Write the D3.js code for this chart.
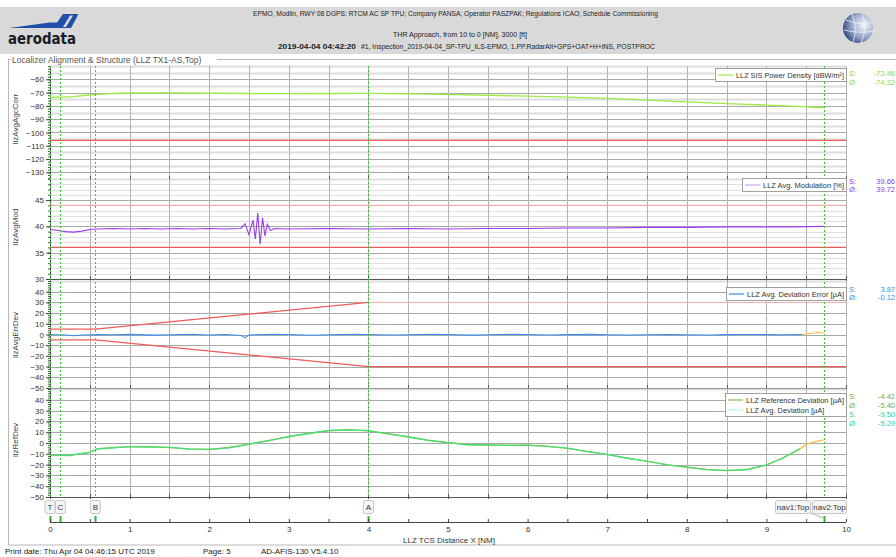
<!DOCTYPE html>
<html>
<head>
<meta charset="utf-8">
<title>Localizer Alignment & Structure</title>
<script src="https://d3js.org/d3.v7.min.js"></script>
<style>
  body { margin: 0; background: #fff; }
  svg { display: block; font-family: "Liberation Sans", Arial, sans-serif; }
</style>
</head>
<body>
<svg id="chart" width="896" height="557"></svg>
<script>
// ---- data ----
var distTicks = [0, 1, 2, 3, 4, 5, 6, 7, 8, 9, 10];
var powerTicks = [-60, -70, -80, -90, -100, -110, -120, -130];
var modTicks = [30, 35, 40, 45];
var errTicks = [40, 30, 20, 10, 0, -10, -20, -30, -40, -50];
var refTicks = [40, 30, 20, 10, 0, -10, -20, -30, -40, -50];

// LLZ SIS Power Density [dBW/m²]
var powerDist = [0, 0.15, 0.3, 0.45, 0.6, 0.8, 1.0, 1.5, 2.0, 2.5, 3.0, 3.5, 4.0, 4.5, 5.0, 5.5, 6.0, 6.5, 7.0, 7.5, 8.0, 8.5, 9.0, 9.4, 9.72];
var powerDensity = [-73.5, -73.4, -73.0, -72.0, -71.3, -70.7, -70.3, -70.2, -70.5, -70.7, -70.8, -70.7, -70.6, -70.9, -71.4, -72.0, -72.7, -73.4, -74.3, -75.6, -77.0, -78.3, -79.4, -80.3, -81.4];
var powerLimit = -106;

// LLZ Avg. Modulation [%]
var modDist = [0, 0.1, 0.2, 0.3, 0.4, 0.5, 0.6, 0.8, 1.0, 1.2, 1.4, 1.6, 1.8, 2.0, 2.2, 2.4, 2.45, 2.5, 2.55, 2.58, 2.61, 2.64, 2.67, 2.7, 2.73, 2.77, 2.82, 3.0, 3.5, 4.0, 4.5, 5.0, 5.5, 6.0, 6.5, 7.0, 7.5, 8.0, 8.5, 9.0, 9.3, 9.72];
var modValue = [39.4, 39.2, 39.0, 38.9, 39.1, 39.4, 39.5, 39.6, 39.5, 39.6, 39.5, 39.6, 39.5, 39.6, 39.5, 39.6, 40.5, 38.4, 41.2, 37.6, 42.6, 36.6, 41.6, 38.2, 40.4, 39.2, 39.6, 39.5, 39.6, 39.5, 39.6, 39.5, 39.6, 39.6, 39.7, 39.7, 39.8, 39.8, 39.9, 39.9, 39.9, 40.0];
var modUpper = 44, modLower = 36;

// LLZ Avg. Deviation Error [µA]
var errDist = [0, 0.2, 0.3, 0.4, 0.6, 0.8, 1.0, 1.3, 1.5, 1.8, 2.0, 2.2, 2.4, 2.45, 2.5, 2.8, 3.0, 3.3, 3.5, 3.8, 4.0, 4.3, 4.5, 4.8, 5.0, 5.3, 5.5, 5.8, 6.0, 6.3, 6.5, 6.8, 7.0, 7.3, 7.5, 7.8, 8.0, 8.3, 8.5, 8.8, 9.0, 9.2, 9.45];
var errValue = [0, -0.5, -1.2, -0.4, 0, -0.3, 0.1, -0.6, -0.2, 0.2, -0.4, 0, -1.0, -3.0, -0.5, 0.2, 0, -0.7, -0.2, 0.1, 0, -0.5, -0.2, 0.2, 0, -0.6, -0.3, 0.1, 0, -0.4, -0.1, 0.1, -0.2, -0.5, -0.2, 0, -0.2, -0.4, -0.1, 0, -0.1, -0.2, 0];
var errTailDist = [9.45, 9.55, 9.65, 9.72];
var errTail = [0, 1.0, 1.8, 1.4];
var errUpperDist = [0, 0.57, 4.0];
var errUpper = [5, 5, 30];
var errUpperOuterDist = [4.0, 10];
var errUpperOuter = [30, 30];
var errLowerDist = [0, 0.57, 4.0, 10];
var errLower = [-5, -5, -30, -30];

// LLZ Reference Deviation / LLZ Avg. Deviation [µA]
var devDist = [0, 0.25, 0.5, 0.6, 0.8, 1.0, 1.25, 1.5, 1.75, 2.0, 2.25, 2.5, 2.75, 3.0, 3.25, 3.5, 3.75, 4.0, 4.25, 4.5, 4.75, 5.0, 5.25, 5.5, 5.75, 6.0, 6.25, 6.5, 6.75, 7.0, 7.25, 7.5, 7.75, 8.0, 8.25, 8.5, 8.75, 9.0, 9.2, 9.42];
var refDev = [-11.5, -11.6, -8.5, -5.5, -4.2, -3.6, -3.5, -4.3, -5.4, -6.0, -4.2, -1.2, 2.4, 5.8, 9.0, 11.4, 12.3, 11.2, 8.6, 5.6, 2.6, 0.2, -1.4, -1.9, -2.0, -2.1, -3.0, -5.0, -7.8, -10.8, -13.9, -17.0, -20.0, -22.5, -24.5, -25.6, -24.6, -20.5, -14.0, -5.5];
var avgDev = [-11.8, -11.2, -8.9, -5.2, -4.5, -3.3, -3.8, -4.0, -5.7, -5.8, -4.5, -0.9, 2.1, 6.1, 8.7, 11.7, 12.0, 11.5, 8.3, 5.9, 2.3, 0.5, -1.7, -1.6, -2.3, -1.8, -3.3, -4.7, -8.1, -10.5, -14.2, -16.7, -20.3, -22.2, -24.8, -25.3, -24.9, -20.2, -14.3, -5.2];
var devTailDist = [9.42, 9.5, 9.6, 9.72];
var devTail = [-5.5, -1.5, 1.0, 2.8];

// event markers
var markerNames = ['T', 'C', 'B', 'A'];
var markerDist = [0, 0.13, 0.57, 4.0];
var navDist = 9.72;
var navNames = ['nav1:Top', 'nav2:Top'];

// legend statistics (S / Ø)
var powerStats = ['-73.46', '-74.32'];
var modStats = ['39.66', '39.72'];
var errStats = ['3.87', '-0.12'];
var devStats = ['-4.42', '-5.40', '-9.50', '-5.29'];

(function () {
  var svg = d3.select('#chart');
  var x = d3.scaleLinear().domain([0, 10]).range([50, 846]);
  var halfSteps = d3.range(0, 10.01, 0.5);

  // ---- header band ----
  svg.append('rect').attr('x', 0).attr('y', 7).attr('width', 896).attr('height', 47).attr('fill', '#d9d9d9');
  // logo swoosh
  svg.append('path')
    .attr('d', 'M9,28 L50,22.5 L57,22.5 L63,14 L78,14 L77,17 L71,28 Z')
    .attr('fill', '#1f4fa8');
  svg.append('path')
    .attr('d', 'M63,27 L70,15.5 L73,15.5 L66,27 Z')
    .attr('fill', '#d9d9d9');
  svg.append('text').attr('x', 8).attr('y', 44).attr('font-size', 16).attr('font-weight', 'bold')
    .attr('font-family', 'DejaVu Sans, sans-serif').attr('fill', '#1b1b26')
    .attr('textLength', 68).attr('lengthAdjust', 'spacingAndGlyphs').text('aerodata');
  // globe icon
  var grad = svg.append('defs').append('radialGradient').attr('id', 'globe')
    .attr('cx', '70%').attr('cy', '40%').attr('r', '75%');
  grad.append('stop').attr('offset', '0%').attr('stop-color', '#f4f6fa');
  grad.append('stop').attr('offset', '55%').attr('stop-color', '#9aa9c9');
  grad.append('stop').attr('offset', '100%').attr('stop-color', '#27407c');
  svg.append('circle').attr('cx', 858).attr('cy', 28).attr('r', 15).attr('fill', 'url(#globe)');
  var globeLines = svg.append('g').attr('fill', 'none').attr('stroke', '#eef1f7').attr('stroke-width', 0.8);
  globeLines.append('path').attr('d', 'M846,20 Q860,26 874,22');
  globeLines.append('path').attr('d', 'M844,30 Q860,34 875,31');
  globeLines.append('path').attr('d', 'M852,14 Q858,28 853,42');
  globeLines.append('path').attr('d', 'M862,13 Q868,28 861,43');

  var head = svg.append('g').attr('font-size', 7).attr('fill', '#222');
  head.append('text').attr('x', 253).attr('y', 16).attr('textLength', 405).attr('lengthAdjust', 'spacingAndGlyphs')
    .text('EPMO, Modlin, RWY 08 DGPS: RTCM AC SP TPU; Company PANSA; Operator PASZPAK; Regulations ICAO; Schedule Commissioning');
  head.append('text').attr('x', 393).attr('y', 37).attr('textLength', 134).attr('lengthAdjust', 'spacingAndGlyphs')
    .text('THR Approach, from 10 to 0 [NM], 3000 [ft]');
  head.append('text').attr('x', 278).attr('y', 49).attr('font-weight', 'bold').attr('textLength', 78).attr('lengthAdjust', 'spacingAndGlyphs')
    .text('2019-04-04 04:42:20');
  head.append('text').attr('x', 361).attr('y', 49).attr('textLength', 294).attr('lengthAdjust', 'spacingAndGlyphs')
    .text('#1, Inspection_2019-04-04_SP-TPU_ILS-EPMO, 1.PP.RadarAlt+GPS+OAT+H+INS, POSTPROC');

  // ---- outer frame ----
  svg.append('rect').attr('x', 8.5).attr('y', 59.5).attr('width', 890).attr('height', 485.5)
    .attr('fill', 'none').attr('stroke', '#b8b8b8');
  svg.append('rect').attr('x', 11).attr('y', 54).attr('width', 206).attr('height', 10).attr('fill', '#fff');
  svg.append('text').attr('x', 12).attr('y', 62.5).attr('font-size', 8.5).attr('fill', '#555')
    .text('Localizer Alignment & Structure (LLZ TX1-AS,Top)');

  // ---- panels ----
  var panels = [
    { label: 'llzAvgAgcCorr', top: 66, bottom: 179, domain: [-135, -50], ticks: powerTicks, minor: 2, grid: 5, thin: 2, labelY: 119 },
    { label: 'llzAvgMod', top: 179, bottom: 279, domain: [30, 49], ticks: modTicks, minor: 1, grid: 1, thin: 1, labelY: 227 },
    { label: 'llzAvgErrDev', top: 281, bottom: 388, domain: [-50, 50], ticks: errTicks, minor: 2, grid: 10, thin: 2, labelY: 335 },
    { label: 'llzRefDev', top: 389, bottom: 497, domain: [-50, 50], ticks: refTicks, minor: 2, grid: 10, thin: 2, labelY: 440 }
  ];

  panels.forEach(function (p) {
    p.y = d3.scaleLinear().domain(p.domain).range([p.bottom, p.top]);
    var g = svg.append('g');
    // horizontal grid
    var gridVals = d3.range(Math.ceil(p.domain[0] / p.grid) * p.grid, p.domain[1] + 0.001, p.grid);
    g.selectAll('line.h').data(gridVals).enter().append('line')
      .attr('x1', x(0)).attr('x2', x(10))
      .attr('y1', function (d) { return Math.round(p.y(d)) + 0.5; })
      .attr('y2', function (d) { return Math.round(p.y(d)) + 0.5; })
      .attr('stroke', function (d) { return p.ticks.indexOf(d) >= 0 ? '#a8a8a8' : '#dedede'; })
      .attr('stroke-width', function (d) { return p.ticks.indexOf(d) >= 0 ? 1 : p.thin; });
    // vertical grid every 0.5 NM
    g.selectAll('line.v').data(halfSteps.slice(1)).enter().append('line')
      .attr('x1', function (d) { return Math.round(x(d)) + 0.5; })
      .attr('x2', function (d) { return Math.round(x(d)) + 0.5; })
      .attr('y1', p.top).attr('y2', p.bottom)
      .attr('stroke', '#b4b4b4');
    // bottom border with small ticks
    g.append('line').attr('x1', x(0)).attr('x2', x(10)).attr('y1', p.bottom + 0.5).attr('y2', p.bottom + 0.5)
      .attr('stroke', '#555');
    g.selectAll('line.t').data(halfSteps).enter().append('line')
      .attr('x1', function (d) { return Math.round(x(d)) + 0.5; })
      .attr('x2', function (d) { return Math.round(x(d)) + 0.5; })
      .attr('y1', p.bottom - 3).attr('y2', p.bottom + 2).attr('stroke', '#555');
    // left axis
    var minorVals = d3.range(Math.ceil(p.domain[0] / p.minor) * p.minor, p.domain[1] + 0.001, p.minor);
    g.append('g').attr('transform', 'translate(' + x(0) + ',0)')
      .call(d3.axisLeft(p.y).tickValues(minorVals).tickSize(2).tickFormat(''))
      .call(function (a) { a.select('.domain').remove(); a.selectAll('line').attr('stroke', '#555'); });
    var ax = g.append('g').attr('transform', 'translate(' + x(0) + ',0)')
      .call(d3.axisLeft(p.y).tickValues(p.ticks).tickSize(4).tickPadding(2));
    ax.select('.domain').attr('d', 'M0.5,' + p.top + 'V' + p.bottom).attr('stroke', '#444');
    ax.selectAll('line').attr('stroke', '#444');
    ax.selectAll('text').attr('font-size', 8).attr('fill', '#333').attr('font-family', 'Liberation Sans, Arial, sans-serif');
    // axis name
    svg.append('text').attr('transform', 'translate(18,' + p.labelY + ') rotate(-90)')
      .attr('text-anchor', 'middle').attr('font-size', 8).attr('fill', '#444').text(p.label);
  });

  function drawLine(panel, xs, ys, color, width, dash) {
    var line = d3.line()
      .x(function (d) { return x(d[0]); })
      .y(function (d) { return panel.y(d[1]); });
    return svg.append('path').datum(d3.zip(xs, ys))
      .attr('d', line).attr('fill', 'none')
      .attr('stroke', color).attr('stroke-width', width || 1)
      .attr('stroke-dasharray', dash || null);
  }

  var p1 = panels[0], p2 = panels[1], p3 = panels[2], p4 = panels[3];

  // limit lines
  drawLine(p1, [0, 10], [powerLimit, powerLimit], '#f05a5a', 1.2);
  drawLine(p2, [0, 10], [modUpper, modUpper], '#f3a0a0', 1);
  drawLine(p2, [0, 10], [modLower, modLower], '#f05a5a', 1.2);
  drawLine(p3, errUpperOuterDist, errUpperOuter, '#f5b4b4', 1);
  drawLine(p3, errUpperDist, errUpper, '#f05a5a', 1.2);
  drawLine(p3, errLowerDist, errLower, '#f05a5a', 1.2);

  // series
  drawLine(p1, powerDist, powerDensity, '#9ee844', 1.3);
  drawLine(p2, modDist, modValue, '#9a3cf0', 1.1);
  drawLine(p3, errDist, errValue, '#3a8ff0', 1.1);
  drawLine(p3, errTailDist, errTail, '#ffb940', 1.1);
  drawLine(p4, devDist, refDev, '#8cc24a', 1.4);
  drawLine(p4, devDist, avgDev, '#3fe27a', 1.1);
  drawLine(p4, devTailDist, devTail, '#ffb940', 1.3);

  // ---- event markers ----
  var allMarks = markerDist.concat([navDist]);
  svg.append('g').selectAll('line').data(allMarks).enter().append('line')
    .attr('x1', function (d) { return Math.round(x(d)) + 0.5; })
    .attr('x2', function (d) { return Math.round(x(d)) + 0.5; })
    .attr('y1', 66).attr('y2', 497)
    .attr('stroke', '#38c838').attr('stroke-dasharray', '2,2');
  svg.append('g').selectAll('line').data(allMarks).enter().append('line')
    .attr('x1', function (d) { return Math.round(x(d)) + 0.5; })
    .attr('x2', function (d) { return Math.round(x(d)) + 0.5; })
    .attr('y1', 516).attr('y2', 522)
    .attr('stroke', '#2eb82e').attr('stroke-width', 2);

  var boxes = svg.append('g').attr('font-size', 8).attr('fill', '#333');
  markerNames.forEach(function (name, i) {
    var cx = x(markerDist[i]);
    boxes.append('rect').attr('x', cx - 5).attr('y', 500.5).attr('width', 10).attr('height', 13).attr('rx', 2)
      .attr('fill', '#f6f6f6').attr('stroke', '#c4c4c4');
    boxes.append('text').attr('x', cx).attr('y', 510).attr('text-anchor', 'middle').text(name);
  });
  var navBoxX = [775, 812], navBoxW = [35, 34];
  navNames.forEach(function (name, i) {
    boxes.append('rect').attr('x', navBoxX[i] + 0.5).attr('y', 500.5).attr('width', navBoxW[i]).attr('height', 13).attr('rx', 2)
      .attr('fill', '#f6f6f6').attr('stroke', '#c4c4c4');
    boxes.append('text').attr('x', navBoxX[i] + navBoxW[i] / 2 + 0.5).attr('y', 510).attr('text-anchor', 'middle').text(name);
  });
  svg.append('line').attr('x1', 810).attr('y1', 513).attr('x2', x(navDist)).attr('y2', 518)
    .attr('stroke', '#999').attr('stroke-width', 0.7);

  // ---- bottom distance axis ----
  var xAxis = svg.append('g').attr('transform', 'translate(0,522)')
    .call(d3.axisBottom(x).tickValues(halfSteps).tickSize(-3).tickPadding(4)
      .tickFormat(function (d) { return distTicks.indexOf(d) >= 0 ? d : ''; }));
  xAxis.select('.domain').attr('d', 'M' + x(0) + ',0.5H' + x(10)).attr('stroke', '#444');
  xAxis.selectAll('line').attr('stroke', '#444');
  xAxis.selectAll('text').attr('font-size', 8).attr('fill', '#333').attr('font-family', 'Liberation Sans, Arial, sans-serif');
  svg.append('text').attr('x', 403).attr('y', 543).attr('font-size', 8).attr('fill', '#333')
    .text('LLZ TCS Distance X [NM]');

  // ---- legends ----
  function legend(left, top, rows) {
    var h = rows.length * 10 + 3;
    var g = svg.append('g');
    g.append('rect').attr('x', left + 0.5).attr('y', top + 0.5).attr('width', 846 - left).attr('height', h)
      .attr('fill', '#fff').attr('stroke', '#8a8a8a').attr('stroke-width', 0.8);
    rows.forEach(function (r, i) {
      var cy = top + 7 + i * 10;
      g.append('line').attr('x1', left + 3).attr('x2', left + 18).attr('y1', cy).attr('y2', cy)
        .attr('stroke', r.color).attr('stroke-width', 1.2);
      var t = g.append('text').attr('x', left + 21).attr('y', cy + 2.8).attr('font-size', 7.5).attr('fill', '#333').text(r.text);
      var room = 846 - left - 23;
      if (t.node().getComputedTextLength() > room) {
        t.attr('textLength', room).attr('lengthAdjust', 'spacingAndGlyphs');
      }
    });
  }
  legend(715, 68, [{ text: 'LLZ SIS Power Density [dBW/m²]', color: '#9ee844' }]);
  legend(742, 178, [{ text: 'LLZ Avg. Modulation [%]', color: '#cda6f7' }]);
  legend(726, 287, [{ text: 'LLZ Avg. Deviation Error [µA]', color: '#3a8ff0' }]);
  legend(725, 393, [{ text: 'LLZ Reference Deviation [µA]', color: '#94b85a' },
                    { text: 'LLZ Avg. Deviation [µA]', color: '#b8f5d8' }]);

  function stats(ys, labels, values, colors) {
    var g = svg.append('g').attr('font-size', 7.5);
    values.forEach(function (v, i) {
      g.append('text').attr('x', 849).attr('y', ys[i]).attr('fill', colors[i]).text(labels[i]);
      g.append('text').attr('x', 895).attr('y', ys[i]).attr('text-anchor', 'end').attr('fill', colors[i]).text(v);
    });
  }
  stats([76, 85], ['S:', 'Ø:'], powerStats, ['#8fdc3a', '#8fdc3a']);
  stats([184, 192], ['S:', 'Ø:'], modStats, ['#8a3cf0', '#8a3cf0']);
  stats([292, 300], ['S:', 'Ø:'], errStats, ['#3a8ff0', '#3a8ff0']);
  stats([399, 408, 417, 426], ['S:', 'Ø:', 'S:', 'Ø:'], devStats, ['#7aa83a', '#7aa83a', '#33cc88', '#33cc88']);

  // ---- print footer ----
  var foot = svg.append('g').attr('font-size', 8).attr('fill', '#222');
  foot.append('text').attr('x', 5).attr('y', 554).text('Print date: Thu Apr 04 04:46:15 UTC 2019');
  foot.append('text').attr('x', 203).attr('y', 554).text('Page: 5');
  foot.append('text').attr('x', 261).attr('y', 554).text('AD-AFIS-130 V5.4.10');
})();
</script>
</body>
</html>
